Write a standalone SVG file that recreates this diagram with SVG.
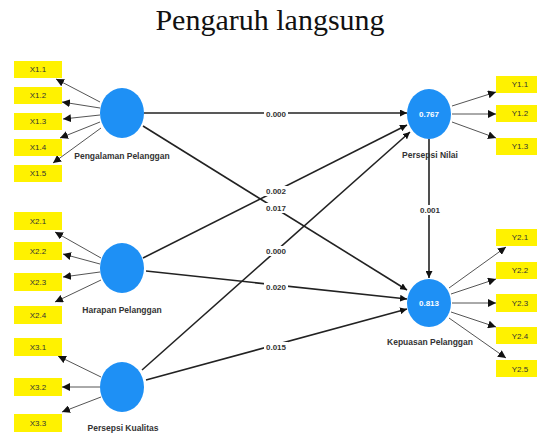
<svg xmlns="http://www.w3.org/2000/svg" width="537" height="434" viewBox="0 0 537 434">
<style>
.ind rect{fill:#FFF200}
.ind text{font-family:"Liberation Sans",Arial,sans-serif;font-size:8px;fill:#333;text-anchor:middle}
.lv ellipse{fill:#1E90F5}
.lv .name{font-family:"Liberation Sans",Arial,sans-serif;font-size:8.5px;font-weight:bold;fill:#333;text-anchor:middle}
.lv .val{font-family:"Liberation Sans",Arial,sans-serif;font-size:8px;font-weight:bold;fill:#fff;text-anchor:middle}
.outer{stroke:#555;stroke-width:1;fill:none;marker-end:url(#ah)}
.inner{stroke:#222;stroke-width:1.6;fill:none;marker-end:url(#ah2)}
.pl rect{fill:#fff}
.pl text{font-family:"Liberation Sans",Arial,sans-serif;font-size:8px;font-weight:bold;fill:#333;text-anchor:middle}
.title{font-family:"Liberation Serif","Times New Roman",serif;font-size:30px;fill:#111;text-anchor:middle}
</style>
<defs>
<marker id="ah" viewBox="0 0 10 10" refX="10" refY="5" markerWidth="8" markerHeight="8" markerUnits="userSpaceOnUse" orient="auto"><path d="M0,0 L10,5 L0,10 z" fill="#111"/></marker>
<marker id="ah2" viewBox="0 0 10 10" refX="10" refY="5" markerWidth="7" markerHeight="7" markerUnits="userSpaceOnUse" orient="auto"><path d="M0,0 L10,5 L0,10 z" fill="#111"/></marker>
</defs>
<rect width="537" height="434" fill="#fff"/>
<text class="title" x="270" y="30">Pengaruh langsung</text>

<g id="connectors">
<line class="outer" x1="100" y1="102" x2="56" y2="79"/>
<line class="outer" x1="100" y1="108" x2="62" y2="102"/>
<line class="outer" x1="100" y1="115" x2="63" y2="119"/>
<line class="outer" x1="100" y1="122" x2="60" y2="138"/>
<line class="outer" x1="101" y1="128" x2="53" y2="163"/>
<line class="outer" x1="101" y1="258" x2="55" y2="232"/>
<line class="outer" x1="100" y1="264" x2="63" y2="254"/>
<line class="outer" x1="100" y1="272" x2="63" y2="277"/>
<line class="outer" x1="101" y1="280" x2="55" y2="302"/>
<line class="outer" x1="101" y1="377" x2="58" y2="356"/>
<line class="outer" x1="100" y1="387" x2="62" y2="387"/>
<line class="outer" x1="101" y1="397" x2="62" y2="412"/>
<line class="outer" x1="452" y1="106" x2="496" y2="92"/>
<line class="outer" x1="452" y1="114" x2="496" y2="114"/>
<line class="outer" x1="452" y1="122" x2="496" y2="138"/>
<line class="outer" x1="449" y1="288" x2="506" y2="247"/>
<line class="outer" x1="451" y1="294" x2="496" y2="279"/>
<line class="outer" x1="452" y1="303" x2="496" y2="303"/>
<line class="outer" x1="451" y1="312" x2="496" y2="327"/>
<line class="outer" x1="449" y1="318" x2="506" y2="358"/>
<line class="inner" x1="144" y1="113" x2="407" y2="113"/>
<line class="inner" x1="143" y1="126" x2="407" y2="290"/>
<line class="inner" x1="143" y1="258" x2="407" y2="125"/>
<line class="inner" x1="142" y1="370" x2="410" y2="132"/>
<line class="inner" x1="146" y1="271" x2="407" y2="299"/>
<line class="inner" x1="146" y1="380" x2="407" y2="309"/>
<line class="inner" x1="429" y1="139" x2="429" y2="278"/>
<g class="pl">
<rect x="264" y="109" width="24" height="10"/><text x="276" y="117">0.000</text>
<rect x="264" y="186" width="24" height="10"/><text x="276" y="194">0.002</text>
<rect x="264" y="203" width="24" height="10"/><text x="276" y="211">0.017</text>
<rect x="264" y="246" width="24" height="10"/><text x="276" y="254">0.000</text>
<rect x="264" y="282" width="24" height="10"/><text x="276" y="290">0.020</text>
<rect x="264" y="342" width="24" height="10"/><text x="276" y="350">0.015</text>
<rect x="418" y="205" width="24" height="10"/><text x="430" y="213">0.001</text>
</g>
</g>

<g id="lv-pengalaman" class="lv"><ellipse cx="122" cy="113" rx="22" ry="25"/><text class="name" x="122" y="159">Pengalaman Pelanggan</text></g>
<g id="lv-harapan" class="lv"><ellipse cx="122" cy="268" rx="22" ry="25"/><text class="name" x="122" y="313">Harapan Pelanggan</text></g>
<g id="lv-kualitas" class="lv"><ellipse cx="122" cy="387" rx="22" ry="25"/><text class="name" x="123" y="431">Persepsi Kualitas</text></g>
<g id="lv-nilai" class="lv"><ellipse cx="429" cy="114" rx="22" ry="25"/><text class="val" x="429" y="117">0.767</text><text class="name" x="430" y="158">Persepsi Nilai</text></g>
<g id="lv-kepuasan" class="lv"><ellipse cx="429" cy="303" rx="22" ry="24"/><text class="val" x="429" y="306">0.813</text><text class="name" x="430" y="345">Kepuasan Pelanggan</text></g>

<g id="x1-1" class="ind"><rect x="14" y="61" width="48" height="17"/><text x="38" y="72">X1.1</text></g>
<g id="x1-2" class="ind"><rect x="14" y="87" width="48" height="17"/><text x="38" y="98">X1.2</text></g>
<g id="x1-3" class="ind"><rect x="14" y="113" width="48" height="17"/><text x="38" y="124">X1.3</text></g>
<g id="x1-4" class="ind"><rect x="14" y="139" width="48" height="17"/><text x="38" y="150">X1.4</text></g>
<g id="x1-5" class="ind"><rect x="14" y="165" width="48" height="17"/><text x="38" y="176">X1.5</text></g>
<g id="x2-1" class="ind"><rect x="14" y="212" width="48" height="18"/><text x="38" y="224">X2.1</text></g>
<g id="x2-2" class="ind"><rect x="14" y="242" width="48" height="18"/><text x="38" y="254">X2.2</text></g>
<g id="x2-3" class="ind"><rect x="14" y="273" width="48" height="18"/><text x="38" y="285">X2.3</text></g>
<g id="x2-4" class="ind"><rect x="14" y="306" width="48" height="18"/><text x="38" y="318">X2.4</text></g>
<g id="x3-1" class="ind"><rect x="14" y="338" width="48" height="18"/><text x="38" y="350">X3.1</text></g>
<g id="x3-2" class="ind"><rect x="14" y="378" width="48" height="18"/><text x="38" y="390">X3.2</text></g>
<g id="x3-3" class="ind"><rect x="14" y="414" width="48" height="18"/><text x="38" y="426">X3.3</text></g>
<g id="y1-1" class="ind"><rect x="496" y="76" width="48" height="17"/><text x="520" y="87">Y1.1</text></g>
<g id="y1-2" class="ind"><rect x="496" y="105" width="48" height="17"/><text x="520" y="116">Y1.2</text></g>
<g id="y1-3" class="ind"><rect x="496" y="138" width="48" height="17"/><text x="520" y="149">Y1.3</text></g>
<g id="y2-1" class="ind"><rect x="496" y="229" width="48" height="17"/><text x="520" y="240">Y2.1</text></g>
<g id="y2-2" class="ind"><rect x="496" y="262" width="48" height="17"/><text x="520" y="273">Y2.2</text></g>
<g id="y2-3" class="ind"><rect x="496" y="294" width="48" height="18"/><text x="520" y="306">Y2.3</text></g>
<g id="y2-4" class="ind"><rect x="496" y="327" width="48" height="17"/><text x="520" y="339">Y2.4</text></g>
<g id="y2-5" class="ind"><rect x="496" y="360" width="48" height="17"/><text x="520" y="372">Y2.5</text></g>
</svg>
